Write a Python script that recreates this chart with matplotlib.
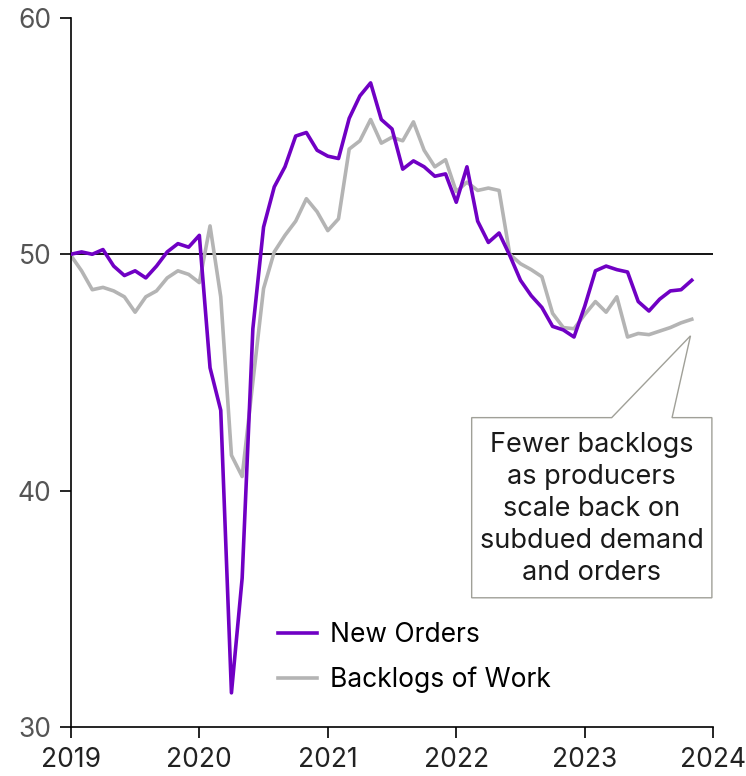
import numpy as np
import matplotlib
matplotlib.use('Agg')
import matplotlib.pyplot as plt
from matplotlib.patches import Polygon

plt.rcParams['font.family'] = ['Inter', 'DejaVu Sans']

# monthly index readings, Jan 2019 - Nov 2023
new_orders = [50.0, 50.1, 50.0, 50.2, 49.5, 49.1, 49.3, 49.0, 49.5, 50.1, 50.45, 50.3,
              50.8, 45.2, 43.4, 31.45, 36.3, 46.85, 51.15, 52.85, 53.7, 55.0, 55.15, 54.4,
              54.15, 54.05, 55.75, 56.7, 57.25, 55.7, 55.3, 53.6, 53.95, 53.7, 53.3, 53.4,
              52.2, 53.7, 51.4, 50.5, 50.9, 49.95, 48.9, 48.25, 47.75, 46.95, 46.8, 46.5,
              47.8, 49.3, 49.5, 49.35, 49.25, 48.0, 47.6, 48.1, 48.45, 48.5, 48.9]
backlogs = [49.95, 49.3, 48.5, 48.6, 48.45, 48.2, 47.55, 48.2, 48.45, 49.0, 49.3, 49.15,
            48.8, 51.2, 48.2, 41.5, 40.6, 44.6, 48.55, 50.1, 50.8, 51.4, 52.35, 51.8,
            51.0, 51.5, 54.45, 54.8, 55.7, 54.7, 54.95, 54.8, 55.6, 54.4, 53.7, 54.0,
            52.65, 53.05, 52.7, 52.8, 52.7, 50.0, 49.6, 49.35, 49.05, 47.5, 46.9, 46.85,
            47.45, 48.0, 47.55, 48.2, 46.5, 46.65, 46.6, 46.75, 46.9, 47.1, 47.25]
years = [2019, 2020, 2021, 2022, 2023, 2024]
yticks = [30, 40, 50, 60]
note = 'Fewer backlogs\nas producers\nscale back on\nsubdued demand\nand orders'

x = 2019 + np.arange(len(new_orders)) / 12

fig = plt.figure(figsize=(7.46, 7.76), dpi=100)
ax = fig.add_axes([0.095, 0.063, 0.861, 0.914])

ax.axhline(50, color='black', lw=1.3, zorder=1)
ax.plot(x, new_orders, color='#7000C4', lw=2.6, label='New Orders', zorder=3)
ax.plot(x, backlogs, color='#B4B4B4', lw=2.6, label='Backlogs of Work', zorder=2)

ax.set_xlim(2019, 2024)
ax.set_ylim(30, 60)
ax.set_xticks(years)
ax.set_yticks(yticks)
ax.tick_params(axis='x', direction='out', length=8, width=1.2, labelsize=19,
               labelcolor='#222222', pad=6)
ax.tick_params(axis='y', direction='out', length=8, width=1.2, labelsize=19,
               labelcolor='#555555', pad=6)
for s in ['top', 'right']:
    ax.spines[s].set_visible(False)
for s in ['left', 'bottom']:
    ax.spines[s].set_linewidth(1.2)

# callout box pointing at the last backlog reading
tip = (x[-1] - 0.01, backlogs[-1] - 0.7)
callout = Polygon([(2022.12, 43.09), (2023.21, 43.09), tip, (2023.68, 43.09),
                   (2023.99, 43.09), (2023.99, 35.47), (2022.12, 35.47)],
                  closed=True, facecolor='white', edgecolor='#A0A098', lw=1.0,
                  zorder=4, clip_on=False)
ax.add_patch(callout)
ax.text(2023.055, 39.22, note, ha='center', va='center', fontsize=19.5,
        color='#1a1a1a', linespacing=1.3, zorder=5)

ax.legend(loc='upper left', bbox_to_anchor=(0.322, 0.148), frameon=False,
          fontsize=19, handlelength=1.5, handletextpad=0.5, labelspacing=0.7,
          borderaxespad=0, borderpad=0)

fig.savefig('out.png', dpi=100)
